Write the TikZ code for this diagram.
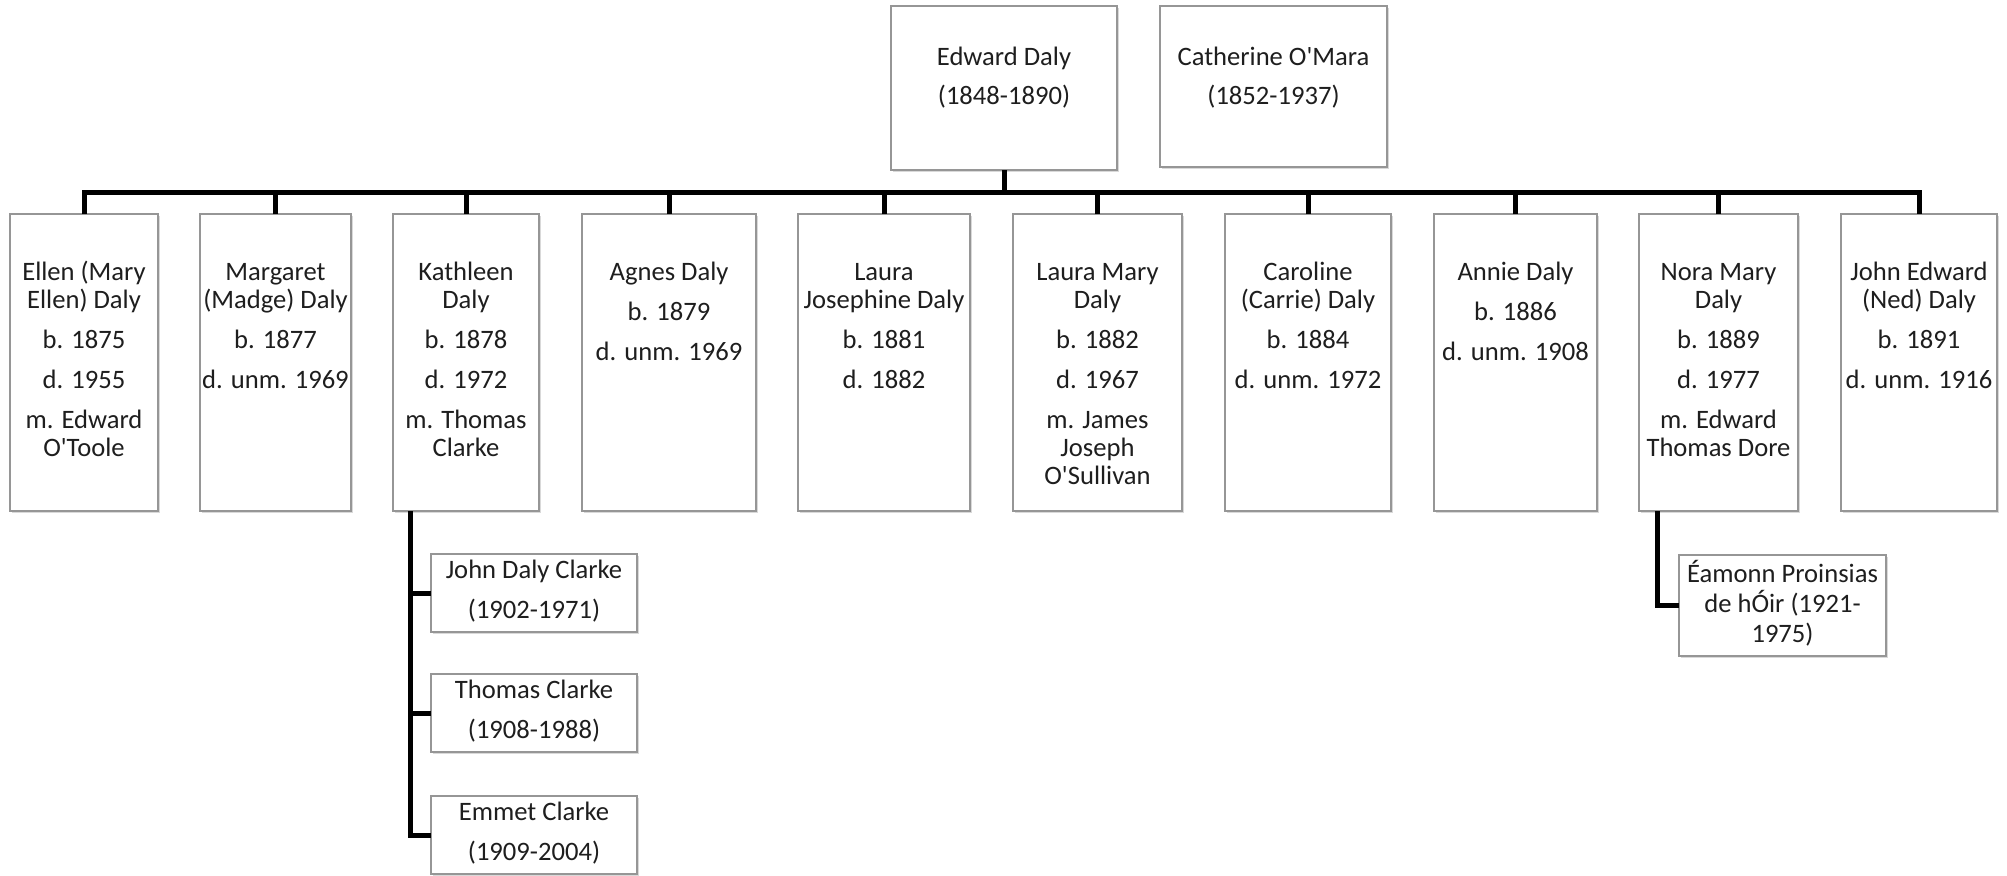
\documentclass[tikz,border=0pt]{standalone}
\usepackage{fontspec}
\setmainfont{Carlito}
\usetikzlibrary{shadows,calc}
\definecolor{boxgray}{RGB}{150,150,150}
\definecolor{txtcol}{RGB}{30,30,30}
\newcommand\ap{\textquotesingle}
\newcommand\bx[4]{\parbox[c][#2][t]{#1}{\centering\leftskip=-12pt plus 1fil\rightskip=-12pt plus 1fil\parindent=0pt\vspace*{\dimexpr#3-11pt\relax}\rule{0pt}{11pt}\ignorespaces#4\par}}
\begin{document}
\begin{tikzpicture}[x=0.5pt,y=-0.5pt,
  pbox/.style={draw=boxgray, line width=0.7pt, fill=white, inner sep=0pt, outer sep=0pt,
    anchor=north west, text=txtcol, font=\fontsize{13.3pt}{14pt}\selectfont,
    drop shadow={shadow xshift=0.8pt, shadow yshift=-1.2pt, opacity=0.3}},
  conn/.style={line width=2.5pt, black}]
\useasboundingbox (0,0) rectangle (2007,875);

% parents
\node[pbox] (ed) at (891,6) {\bx{113pt}{82pt}{29.5pt}{Edward Daly\\[5.5pt](1848-1890)}};
\node[pbox] (cat) at (1160,6) {\bx{113.5pt}{80.5pt}{29.5pt}{Catherine O\ap Mara\\[5.5pt](1852-1937)}};

% children
\node[pbox] (c1) at (10,214) {\bx{74pt}{148.5pt}{33pt}{Ellen (Mary\\Ellen) Daly\\[6pt]b. 1875\\[6pt]d. 1955\\[6pt]m. Edward\\O\ap Toole}};
\node[pbox] (c2) at (200,214) {\bx{75.5pt}{148.5pt}{33pt}{Margaret\\(Madge) Daly\\[6pt]b. 1877\\[6pt]d. unm. 1969}};
\node[pbox] (c3) at (393,214) {\bx{73pt}{148.5pt}{33pt}{Kathleen\\Daly\\[6pt]b. 1878\\[6pt]d. 1972\\[6pt]m. Thomas\\Clarke}};
\node[pbox] (c4) at (582,214) {\bx{87pt}{148.5pt}{33pt}{Agnes Daly\\[6pt]b. 1879\\[6pt]d. unm. 1969}};
\node[pbox] (c5) at (798,214) {\bx{86pt}{148.5pt}{33pt}{Laura\\Josephine Daly\\[6pt]b. 1881\\[6pt]d. 1882}};
\node[pbox] (c6) at (1013,214) {\bx{84.5pt}{148.5pt}{33pt}{Laura Mary\\Daly\\[6pt]b. 1882\\[6pt]d. 1967\\[6pt]m. James\\Joseph\\O\ap Sullivan}};
\node[pbox] (c7) at (1225,214) {\bx{83pt}{148.5pt}{33pt}{Caroline\\(Carrie) Daly\\[6pt]b. 1884\\[6pt]d. unm. 1972}};
\node[pbox] (c8) at (1434,214) {\bx{81.5pt}{148.5pt}{33pt}{Annie Daly\\[6pt]b. 1886\\[6pt]d. unm. 1908}};
\node[pbox] (c9) at (1639,214) {\bx{79.5pt}{148.5pt}{33pt}{Nora Mary\\Daly\\[6pt]b. 1889\\[6pt]d. 1977\\[6pt]m. Edward\\Thomas Dore}};
\node[pbox] (c10) at (1841,214) {\bx{78pt}{148.5pt}{33pt}{John Edward\\(Ned) Daly\\[6pt]b. 1891\\[6pt]d. unm. 1916}};

% grandchildren
\node[pbox] (g1) at (431,554) {\bx{103pt}{39pt}{12pt}{John Daly Clarke\\[6pt](1902-1971)}};
\node[pbox] (g2) at (431,674) {\bx{103pt}{39pt}{12pt}{Thomas Clarke\\[6pt](1908-1988)}};
\node[pbox] (g3) at (431,796) {\bx{103pt}{39pt}{12pt}{Emmet Clarke\\[6pt](1909-2004)}};
\node[pbox] (gn) at (1679,555) {\bx{103.5pt}{50.5pt}{13.5pt}{Éamonn Proinsias\\[1pt]de hÓir (1921-\\[1pt]1975)}};

% connectors
\coordinate (bar) at (0,192);
\draw[conn] (ed.south) -- (ed.south |- bar);
\draw[conn] (c1.north) -- (c1.north |- bar) -- (c10.north |- bar) -- (c10.north);
\foreach \i in {2,...,9} \draw[conn] (c\i.north) -- (c\i.north |- bar);

\coordinate (k) at ($(c3.south west)+(17,0)$);
\draw[conn] (k) |- (g3.west);
\draw[conn] (k |- g1.west) -- (g1.west);
\draw[conn] (k |- g2.west) -- (g2.west);

\coordinate (n) at ($(c9.south west)+(18,0)$);
\draw[conn] (n) |- (gn.west);
\end{tikzpicture}
\end{document}
